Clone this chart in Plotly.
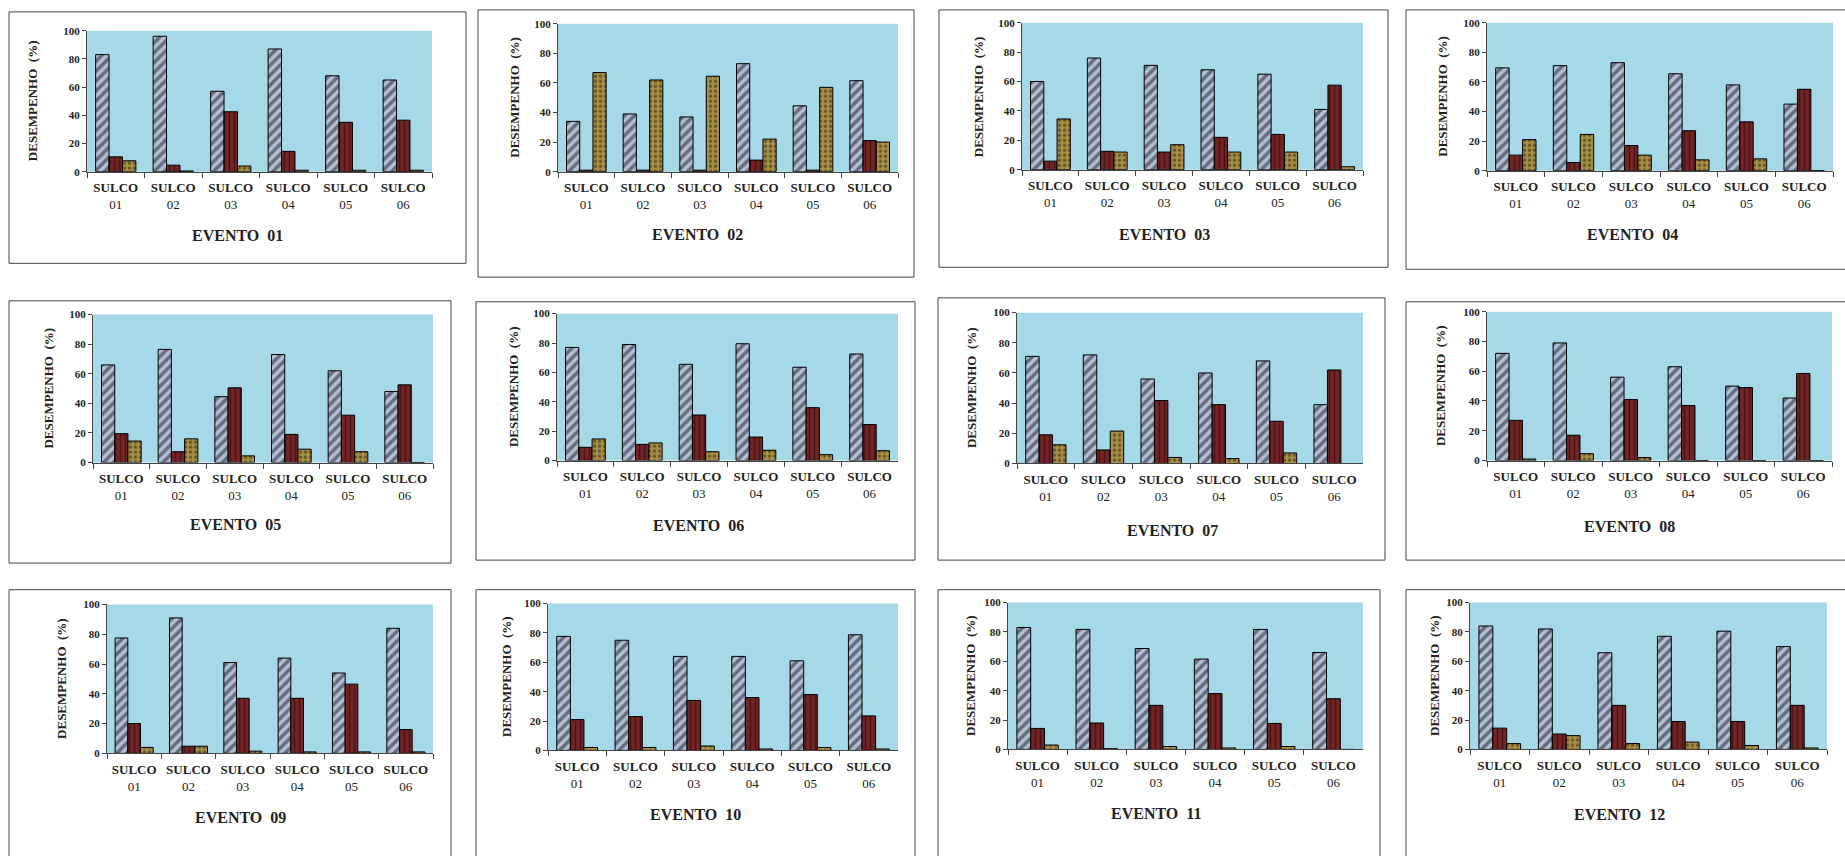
import plotly.graph_objects as go

# ---- data -------------------------------------------------------------
eventos = ["EVENTO  01", "EVENTO  02", "EVENTO  03", "EVENTO  04",
           "EVENTO  05", "EVENTO  06", "EVENTO  07", "EVENTO  08",
           "EVENTO  09", "EVENTO  10", "EVENTO  11", "EVENTO  12"]

sulcos = ["SULCO 01", "SULCO 02", "SULCO 03", "SULCO 04", "SULCO 05", "SULCO 06"]
sulco_ticks = ["<b>SULCO</b><br>01", "<b>SULCO</b><br>02", "<b>SULCO</b><br>03",
               "<b>SULCO</b><br>04", "<b>SULCO</b><br>05", "<b>SULCO</b><br>06"]

# first bar of each group (diagonal hatch)
serie_a = [
    [83, 96, 57, 87, 68, 65],
    [34, 39, 37, 73, 44.5, 61.5],
    [60, 76, 71, 68, 65, 41],
    [69.5, 71, 73, 65.5, 58, 45],
    [66, 76.5, 44.5, 73, 62, 48],
    [77, 79, 65.5, 79.5, 63.5, 72.5],
    [71, 72, 56, 60, 68, 39],
    [72, 79, 56, 63, 50, 42],
    [77.5, 91, 61, 64, 54, 84],
    [77.6, 75, 64, 64, 61, 78.7],
    [83, 81.7, 68.7, 61.5, 81.7, 66],
    [84, 82, 65.8, 77, 80.5, 70],
]

# second bar of each group (vertical hatch)
serie_b = [
    [10.5, 4.6, 42.5, 14.4, 35, 36.5],
    [1, 1, 1, 7.8, 1, 21],
    [5.8, 12.5, 12, 22, 24, 57.5],
    [10.5, 5.5, 17, 27, 33, 55],
    [19.5, 7.3, 50.5, 19, 32, 52.5],
    [9, 11, 31, 16, 36, 24.5],
    [19, 9, 41.7, 39, 28, 62],
    [27, 17, 41, 37, 49, 58.5],
    [20, 4.8, 37, 37, 46.5, 16],
    [21, 23, 34, 36, 38, 23.5],
    [14.3, 18, 30, 38, 17.7, 34.5],
    [14.5, 10.5, 30, 19, 19, 30],
]

# third bar of each group (dotted)
serie_c = [
    [7.7, 0.5, 4, 1, 1, 1],
    [67, 62, 64.5, 22, 57, 20],
    [34.5, 12, 17, 12, 12, 2],
    [21, 24.5, 10.5, 7.3, 8, 0],
    [14.5, 16, 4.5, 9, 7.3, 0],
    [14.7, 12, 6, 7, 4, 6.7],
    [12.4, 21.5, 4, 3.3, 7, 0],
    [1, 4.6, 2, 0, 0, 0],
    [4, 4.8, 1.5, 1, 1, 1],
    [2, 2, 3, 1, 2, 1],
    [3, 0.5, 2, 1, 2, 0],
    [4, 9.4, 4, 5, 2.7, 1],
]

y_ticks = [0, 20, 40, 60, 80, 100]

# ---- layout geometry (pixels on a 1845 x 856 page) --------------------
W, H = 1845, 856

plot_boxes = [  # left, top, right, bottom of each plotting area
    (87, 25, 432, 168), (558, 18, 898, 168), (1022, 17, 1363, 166), (1487, 17, 1833, 167),
    (93, 313, 433, 463), (557, 312, 898, 461), (1017, 311, 1363, 464), (1487, 310, 1832, 461),
    (107, 607, 433, 758), (548, 606, 898, 755), (1008, 605, 1363, 754), (1470, 605, 1827, 754),
]
frames = [  # outer frame around each chart
    (9, 6, 466, 261), (478, 4, 914, 275), (939, 4, 1388, 265), (1406, 4, 1852, 267),
    (9, 299, 451, 565), (476, 300, 915, 562), (938, 296, 1385, 562), (1406, 300, 1852, 562),
    (9, 592, 451, 870), (476, 592, 915, 870), (938, 592, 1380, 870), (1406, 592, 1852, 870),
]
title_xy = [
    (237, 233), (697, 232), (1164, 232), (1632, 232),
    (235, 526), (698, 527), (1172, 532), (1629, 528),
    (240, 823), (695, 820), (1156, 819), (1619, 820),
]
ytitle_x = [32, 515, 978, 1443, 49, 513, 971, 1440, 62, 507, 971, 1435]


def fx(x):
    return x / W


def fy(y):
    return 1 - y / H


SERIF = "Liberation Serif, Times New Roman, serif"
BG = "#a6d9e8"

style_a = dict(color="#b3bfd2", line=dict(color="#000000", width=1),
               pattern=dict(shape="/", fgcolor="#161a28", bgcolor="#b3bfd2",
                            size=7, solidity=0.5, fillmode="overlay"))
style_b = dict(color="#742424", line=dict(color="#000000", width=1),
               pattern=dict(shape="|", fgcolor="#1a0606", bgcolor="#742424",
                            size=5, solidity=0.3, fillmode="overlay"))
style_c = dict(color="#a88f45", line=dict(color="#000000", width=1),
               pattern=dict(shape=".", fgcolor="#2a2010", bgcolor="#a88f45",
                            size=5, solidity=0.35, fillmode="overlay"))

fig = go.Figure()
shapes = []
annotations = []

for i in range(12):
    n = "" if i == 0 else str(i + 1)
    xa, ya = "x" + n, "y" + n
    for vals, st, nm in ((serie_a[i], style_a, "A"),
                         (serie_b[i], style_b, "B"),
                         (serie_c[i], style_c, "C")):
        fig.add_trace(go.Bar(x=sulcos, y=vals, name=nm, marker=st,
                             xaxis=xa, yaxis=ya, showlegend=False))

    l, t, r, b = plot_boxes[i]
    fig.layout["xaxis" + n] = dict(
        domain=[fx(l), fx(r)], anchor=ya, type="category",
        tickmode="array", tickvals=sulcos, ticktext=sulco_ticks,
        tickson="boundaries", ticks="outside", ticklen=5, tickcolor="#444",
        ticklabelstandoff=4,
        showline=True, linecolor="#444", linewidth=1, showgrid=False,
        tickfont=dict(family=SERIF, size=13, color="#222"), fixedrange=True)
    fig.layout["yaxis" + n] = dict(
        domain=[fy(b), fy(t)], anchor=xa, range=[0, 100],
        tickmode="array", tickvals=y_ticks, ticks="outside", ticklen=4,
        tickcolor="#444", showline=True, linecolor="#444", linewidth=1,
        showgrid=False, zeroline=False,
        tickfont=dict(family=SERIF, size=11, color="#222", weight="bold"),
        fixedrange=True)

    # background of the plotting area
    shapes.append(dict(type="rect", xref="paper", yref="paper", layer="below",
                       x0=fx(l), x1=fx(r), y0=fy(b), y1=fy(t),
                       fillcolor=BG, line=dict(width=0)))
    # outer frame
    fl, ft, fr, fb = frames[i]
    shapes.append(dict(type="rect", xref="paper", yref="paper", layer="below",
                       x0=fx(fl), x1=fx(fr), y0=fy(fb), y1=fy(ft),
                       line=dict(color="#444", width=1)))

    tx, ty = title_xy[i]
    annotations.append(dict(text="<b>" + eventos[i] + "</b>", xref="paper", yref="paper",
                            x=fx(tx), y=fy(ty), showarrow=False,
                            xanchor="center", yanchor="middle",
                            font=dict(family=SERIF, size=16, color="#222")))
    annotations.append(dict(text="<b>DESEMPENHO  (%)</b>", xref="paper", yref="paper",
                            x=fx(ytitle_x[i]), y=fy((t + b) / 2), showarrow=False,
                            textangle=-90, xanchor="center", yanchor="middle",
                            font=dict(family=SERIF, size=13, color="#222")))

fig.update_layout(
    width=W, height=H, margin=dict(l=0, r=0, t=0, b=0),
    paper_bgcolor="white", plot_bgcolor="rgba(0,0,0,0)",
    barmode="group", bargap=0.30, bargroupgap=0.0,
    shapes=shapes, annotations=annotations,
)

fig.write_html("out.html")
